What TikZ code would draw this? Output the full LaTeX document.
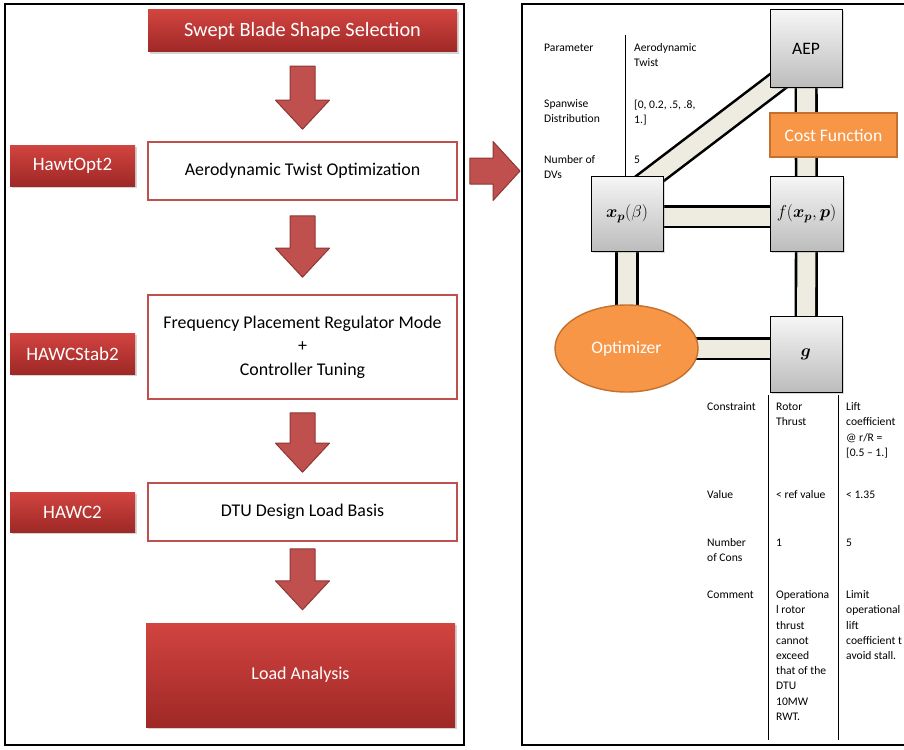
\documentclass[tikz,border=0pt]{standalone}
\usepackage{fontspec}
\setmainfont{Carlito}
\usepackage{bm}
\usetikzlibrary{shadows,calc,shapes.geometric,backgrounds}
\definecolor{redtop}{RGB}{210,68,64}
\definecolor{redbot}{RGB}{158,40,38}
\definecolor{boxred}{RGB}{192,80,77}
\definecolor{arrowfill}{RGB}{192,80,77}
\definecolor{arrowedge}{RGB}{140,56,54}
\definecolor{graytop}{RGB}{246,246,246}
\definecolor{graybot}{RGB}{188,188,188}
\definecolor{bandfill}{RGB}{238,236,225}
\definecolor{orangefill}{RGB}{247,150,70}
\definecolor{orangeedge}{RGB}{196,112,46}
\newcommand\myarrowdown[2]{\filldraw[blockarr] let \p1=#1, \p2=#2 in
  (\x1-12.5pt,\y1) -- (\x1+12.5pt,\y1) -- (\x1+12.5pt,\y2+29pt) -- (\x1+27pt,\y2+29pt)
  -- (\x1,\y2) -- (\x1-27pt,\y2+29pt) -- (\x1-12.5pt,\y2+29pt) -- cycle;}
\newcommand\myarrowright[2]{\filldraw[blockarr] let \p1=#1, \p2=#2 in
  (\x1,\y1+13pt) -- (\x2-27pt,\y1+13pt) -- (\x2-27pt,\y1+29.5pt) -- (\x2,\y1)
  -- (\x2-27pt,\y1-29.5pt) -- (\x2-27pt,\y1-13pt) -- (\x1,\y1-13pt) -- cycle;}
\begin{document}
\begin{tikzpicture}[x=1pt,y=-1pt,
  redbox/.style={rectangle, top color=redtop, bottom color=redbot, draw=none, text=white,
    font=\fontsize{19}{23}\selectfont,
    drop shadow={shadow xshift=2pt,shadow yshift=-2pt,opacity=0.35}},
  whitebox/.style={rectangle, draw=boxred, line width=1.6pt, fill=white,
    font=\fontsize{17.9}{23.5}\selectfont, align=center},
  graybox/.style={rectangle, top color=graytop, bottom color=graybot, draw=black,
    line width=1pt, font=\fontsize{17.5}{20}\selectfont,
    drop shadow={shadow xshift=1.5pt,shadow yshift=-1.5pt,opacity=0.3}},
  orangebox/.style={fill=orangefill, draw=orangeedge, line width=1.4pt, text=white,
    font=\fontsize{17.6}{20}\selectfont},
  blockarr/.style={fill=arrowfill, draw=arrowedge, line width=1pt, line join=round},
  band/.style={draw=black, line width=2.6pt, double=bandfill, double distance=18pt},
  panel/.style={draw=black, line width=1.6pt},
  tab/.style={anchor=north west, inner sep=0pt, align=left, font=\fontsize{11.6}{15.2}\selectfont},
  tabline/.style={draw=black, line width=0.9pt}
]
\useasboundingbox (0,0) rectangle (904,749);
\clip (0,0) rectangle (904,749);

% panels
\draw[panel] (5,4) rectangle (464,745);
\draw[panel] (522,4) rectangle (915,745);

% ---------- left panel ----------
\node[redbox, minimum width=309pt, minimum height=42pt, font=\fontsize{20.3}{24}\selectfont] (swept) at (302.5,31) {Swept Blade Shape Selection};
\node[whitebox, minimum width=309pt, minimum height=58pt] (aero) at (302.5,171) {Aerodynamic Twist Optimization};
\node[whitebox, minimum width=309pt, minimum height=104pt] (freq) at (302.5,347) {Frequency Placement Regulator Mode\\+\\Controller Tuning};
\node[whitebox, minimum width=309pt, minimum height=58pt] (dtu) at (302.5,512) {DTU Design Load Basis};
\node[redbox, minimum width=309pt, minimum height=104pt, font=\fontsize{18}{21}\selectfont] (load) at (300.5,675) {Load Analysis};

\node[redbox, minimum width=125pt, minimum height=41pt] (hawtopt) at (72.5,165.5) {HawtOpt2};
\node[redbox, minimum width=125pt, minimum height=41pt] (hawcstab) at (72.5,353.5) {HAWCStab2};
\node[redbox, minimum width=125pt, minimum height=40pt] (hawc) at (72.5,512) {HAWC2};

\myarrowdown{($(swept.south)+(0,14)$)}{($(aero.north)+(0,-12)$)}
\myarrowdown{($(aero.south)+(0,15)$)}{($(freq.north)+(0,-17)$)}
\myarrowdown{($(freq.south)+(0,13)$)}{($(dtu.north)+(0,-10)$)}
\myarrowdown{($(dtu.south)+(0,7)$)}{($(load.north)+(0,-13)$)}

\coordinate (rpanel) at (522,171);
\myarrowright{($(aero.east)+(12,0)$)}{($(rpanel)+(-2,0)$)}

% ---------- right panel ----------
\node[graybox, minimum width=72pt, minimum height=78pt] (aep) at (806,49) {AEP};
\node[graybox, minimum width=73pt, minimum height=75pt] (fx) at (806.5,213.5) {$f(\bm{x}_{\bm{p}},\bm{p})$};
\node[graybox, minimum width=72pt, minimum height=75pt, font=\fontsize{16.5}{20}\selectfont] (xp) at (627,213.5) {$\bm{x}_{\bm{p}}(\beta)$};
\node[graybox, minimum width=72pt, minimum height=76pt] (g) at (806,354) {$\bm{g}$};
\node[orangebox, rectangle, minimum width=127pt, minimum height=44pt] (cost) at (833.5,135) {Cost Function};
\node[orangebox, ellipse, minimum width=143pt, minimum height=87pt, inner sep=0pt] (opt) at (626.5,348.5) {Optimizer};

\begin{pgfonlayer}{background}
\draw[band] (aep.center) -- (fx.center);
\draw[band] ([yshift=-3pt]xp.center) -- ([yshift=-3pt]fx.center);
\draw[band] (xp.center) -- (xp |- opt);
\draw[band] (fx.center) -- (g.center);
\draw[band] (opt.center) -- (opt -| g);
\draw[band] ($(xp.north east)+(-28,14)$) -- ($(aep.south west)+(25,-20)$);
\end{pgfonlayer}

% table 1
\coordinate (t1top) at (625,35);
\draw[tabline] (t1top) -- (t1top |- xp.north);
\node[tab] (p1) at (544,43.5) {Parameter};
\node[tab] (p2) at (634,43.5) {Aerodynamic\\Twist};
\node[tab] (s1) at (544,99.5) {Spanwise\\Distribution};
\node[tab] (s2) at (634,99.5) {[0, 0.2, .5, .8,\\1.]};
\node[tab] (n1) at (544,155.5) {Number of\\DVs};
\node[tab] (n2) at (634,155.5) {5};

% table 2
\coordinate (t2a) at (768,395);
\coordinate (t2b) at (838,395);
\draw[tabline] (t2a) -- ++(0,345);
\draw[tabline] (t2b) -- ++(0,345);
\node[tab] (c1) at (707,402.5) {Constraint};
\node[tab] (c2) at (776,402.5) {Rotor\\Thrust};
\node[tab] (c3) at (846,402.5) {Lift\\coefficient\\@ r/R =\\{[0.5 – 1.]}};
\node[tab] (v1) at (707,490.5) {Value};
\node[tab] (v2) at (776,490.5) {< ref value};
\node[tab] (v3) at (846,490.5) {< 1.35};
\node[tab] (u1) at (707,538.5) {Number\\of Cons};
\node[tab] (u2) at (776,538.5) {1};
\node[tab] (u3) at (846,538.5) {5};
\node[tab] (m1) at (707,590.5) {Comment};
\node[tab] (m2) at (776,590.5) {Operationa\\l rotor\\thrust\\cannot\\exceed\\that of the\\DTU\\10MW\\RWT.};
\node[tab] (m3) at (846,590.5) {Limit\\operational\\lift\\coefficient t\\avoid stall.};
\end{tikzpicture}
\end{document}
